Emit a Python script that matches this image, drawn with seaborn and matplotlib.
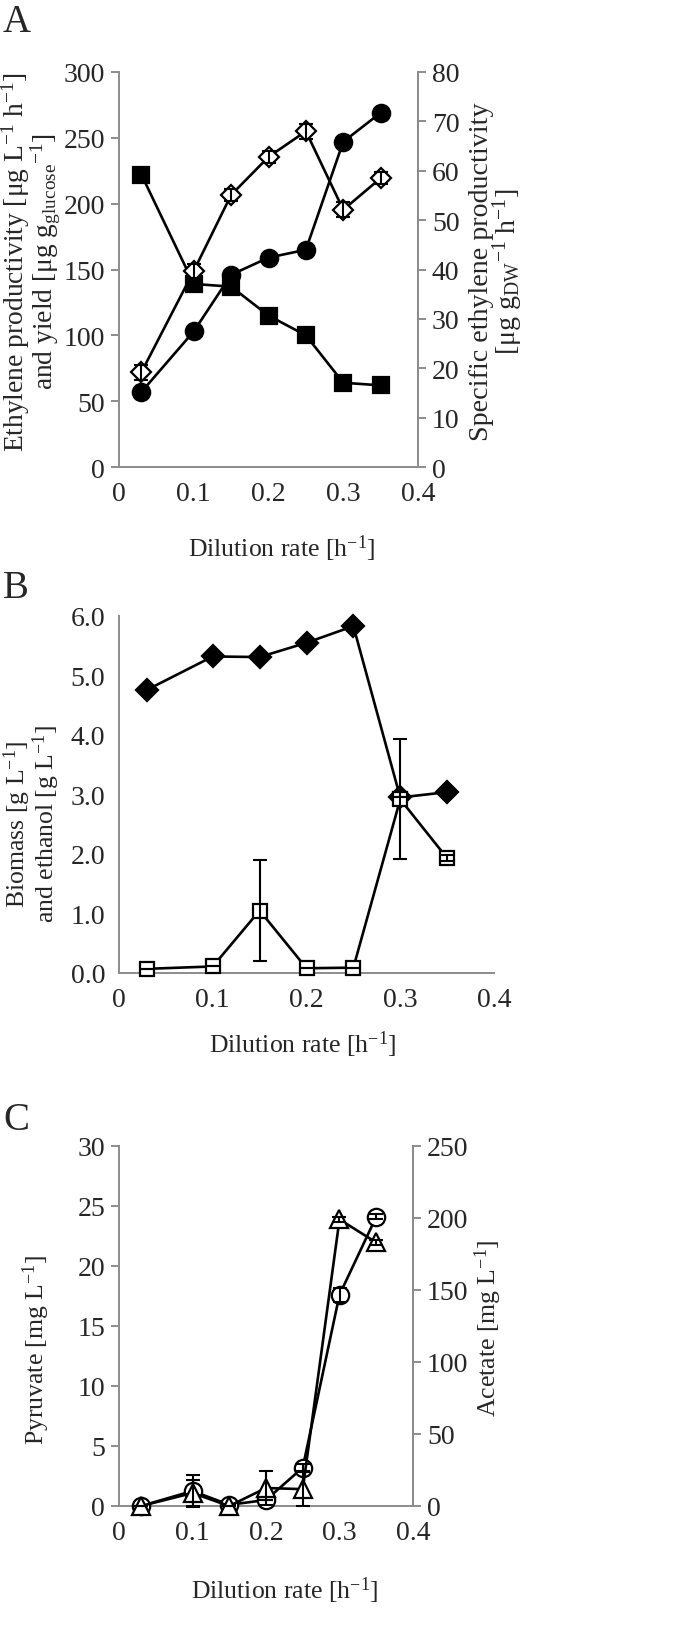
import numpy as np
import pandas as pd
import matplotlib
matplotlib.use("Agg")
import matplotlib.pyplot as plt
import seaborn as sns
from matplotlib.ticker import MultipleLocator

# ---------------- data ----------------
dilution = [0.03, 0.10, 0.15, 0.20, 0.25, 0.30, 0.35]

# Panel A
productivity = [57, 103, 146, 159, 165, 247, 269]          # circles, left axis
yield_glc = [222, 139, 137, 115, 100, 64, 62]              # squares, left axis
specific_prod = [19.2, 39.7, 55.1, 62.8, 68.0, 52.1, 58.5]  # open diamonds, right axis
specific_err = [1.5, 1.5, 1.2, 1.2, 1.5, 1.5, 1.2]

# Panel B
biomass = [4.76, 5.32, 5.31, 5.55, 5.83, 2.95, 3.04]
biomass_err = [0.0, 0.0, 0.0, 0.0, 0.07, 0.0, 0.0]
ethanol = [0.07, 0.11, 1.05, 0.08, 0.09, 2.92, 1.93]
ethanol_err = [0.0, 0.0, 0.85, 0.0, 0.0, 1.01, 0.05]

# Panel C
pyruvate = [0.0, 1.25, 0.1, 0.5, 3.2, 17.6, 24.1]
pyruvate_err = [0.0, 1.3, 0.0, 0.0, 0.3, 0.6, 0.2]
acetate = [0.0, 9.0, 0.0, 12.5, 11.7, 199.0, 183.0]
acetate_err = [0.0, 9.0, 0.0, 11.7, 11.7, 1.5, 1.5]

# ---------------- style ----------------
sns.set_style("white")
plt.rcParams['font.family'] = ['Liberation Serif', 'DejaVu Serif']
plt.rcParams['mathtext.fontset'] = 'custom'
plt.rcParams['mathtext.rm'] = 'Liberation Serif'
plt.rcParams['mathtext.it'] = 'Liberation Serif:italic'
plt.rcParams['mathtext.default'] = 'rm'

FS = 20     # tick labels
LFS = 18.5  # axis labels
GRAY = '#8c8c8c'
LW = 1.9

W, H = 685, 1640
fig = plt.figure(figsize=(W / 100, H / 100), dpi=100)


def ftext(x, y, s, **kw):
    """Place text at pixel coords (from top-left)."""
    return fig.text(x / W, 1 - y / H, s, **kw)


def style_axis(ax, right=False):
    ax.spines['top'].set_visible(False)
    ax.spines['right'].set_visible(right)
    for s in ['left', 'bottom', 'right']:
        ax.spines[s].set_color(GRAY)
        ax.spines[s].set_linewidth(1.4)
    ax.tick_params(axis='both', which='both', direction='out', length=6,
                   width=1.4, color=GRAY, labelsize=FS, pad=4)
    ax.xaxis.set_major_locator(MultipleLocator(0.1))
    ax.xaxis.set_minor_locator(MultipleLocator(0.05))
    ax.set_xlim(0, 0.4)
    ax.xaxis.set_major_formatter(matplotlib.ticker.FuncFormatter(
        lambda v, p: '0' if abs(v) < 1e-9 else f'{v:.1f}'))
    ax.grid(False)


def style_twin(ax2):
    for s in ['top', 'left', 'bottom']:
        ax2.spines[s].set_visible(False)
    ax2.spines['right'].set_color(GRAY)
    ax2.spines['right'].set_linewidth(1.4)
    ax2.tick_params(axis='y', direction='out', length=6, width=1.4, color=GRAY,
                    labelsize=FS, pad=4)
    ax2.set_xlim(0, 0.4)
    ax2.grid(False)


def line(ax, x, y, marker, ms, fill, err=None, zo=3):
    df = pd.DataFrame({'x': x, 'y': y})
    sns.lineplot(data=df, x='x', y='y', ax=ax, color='black', lw=LW,
                 marker=marker, markersize=ms, markerfacecolor=fill,
                 markeredgecolor='black', markeredgewidth=1.6, zorder=zo)
    if err is not None:
        ax.errorbar(x, y, yerr=err, fmt='none', ecolor='black', elinewidth=1.5,
                    capsize=5, capthick=1.5, zorder=zo + 1)
    ax.set_xlabel('')
    ax.set_ylabel('')


rot = dict(rotation=90, ha='center', va='center', multialignment='center')

# ---------------- Panel A ----------------
axA = fig.add_axes([119/W, 1-468/H, 299/W, 395/H])
style_axis(axA, right=True)
axA2 = axA.twinx()
line(axA, dilution, productivity, 'o', 12.5, 'black')
line(axA, dilution, yield_glc, 's', 11, 'black')
line(axA2, dilution, specific_prod, 'D', 10.5, 'white', err=specific_err)
axA.set_ylim(0, 300)
axA.yaxis.set_major_locator(MultipleLocator(50))
axA2.set_ylim(0, 80)
axA2.yaxis.set_major_locator(MultipleLocator(10))
style_twin(axA2)
ftext(31, 262, 'Ethylene productivity [μg L$^{-1}$ h$^{-1}$]\nand yield [μg g$_{\\mathrm{glucose}}$$^{-1}$]',
      fontsize=19.8, linespacing=0.85, **rot)
ftext(497, 272, 'Specific ethylene productivity\n[μg g$_{\\mathrm{DW}}$$^{-1}$ h$^{-1}$]',
      fontsize=20.2, linespacing=0.9, **rot)
axA.set_xlabel('Dilution rate [h$^{-1}$]', fontsize=LFS)
axA.xaxis.set_label_coords(0.545, -0.165)
ftext(3, 32, 'A', fontsize=28, ha='left', va='baseline')

# ---------------- Panel B ----------------
axB = fig.add_axes([119/W, 1-974/H, 375/W, 357/H])
style_axis(axB, right=False)
line(axB, dilution, biomass, 'D', 11.5, 'black', err=biomass_err)
line(axB, dilution, ethanol, 's', 10.5, 'white', err=ethanol_err)
axB.set_ylim(0, 6)
axB.yaxis.set_major_locator(MultipleLocator(1.0))
axB.yaxis.set_major_formatter(matplotlib.ticker.FormatStrFormatter('%.1f'))
ftext(32, 824, 'Biomass [g L$^{-1}$]\nand ethanol [g L$^{-1}$]', fontsize=LFS,
      linespacing=0.88, **rot)
axB.set_xlabel('Dilution rate [h$^{-1}$]', fontsize=LFS)
axB.xaxis.set_label_coords(0.49, -0.155)
ftext(3, 598, 'B', fontsize=28, ha='left', va='baseline')

# ---------------- Panel C ----------------
axC = fig.add_axes([119/W, 1-1507/H, 294/W, 360/H])
style_axis(axC, right=True)
axC2 = axC.twinx()
line(axC, dilution, pyruvate, 'o', 12.5, 'white', err=pyruvate_err)
line(axC2, dilution, acetate, '^', 12.5, 'white', err=acetate_err)
axC.set_ylim(0, 30)
axC.yaxis.set_major_locator(MultipleLocator(5))
axC2.set_ylim(0, 250)
axC2.yaxis.set_major_locator(MultipleLocator(50))
style_twin(axC2)
ftext(36, 1350, 'Pyruvate [mg L$^{-1}$]', fontsize=LFS, **rot)
ftext(488, 1328, 'Acetate [mg L$^{-1}$]', fontsize=LFS, **rot)
axC.set_xlabel('Dilution rate [h$^{-1}$]', fontsize=LFS)
axC.xaxis.set_label_coords(0.565, -0.19)
ftext(3, 1130, 'C', fontsize=28, ha='left', va='baseline')

for ax in [axA, axA2, axB, axC, axC2]:
    ax.patch.set_visible(False)
    for art in ax.lines + ax.collections:
        art.set_clip_on(False)

fig.savefig('out.png', dpi=100, facecolor='white')
